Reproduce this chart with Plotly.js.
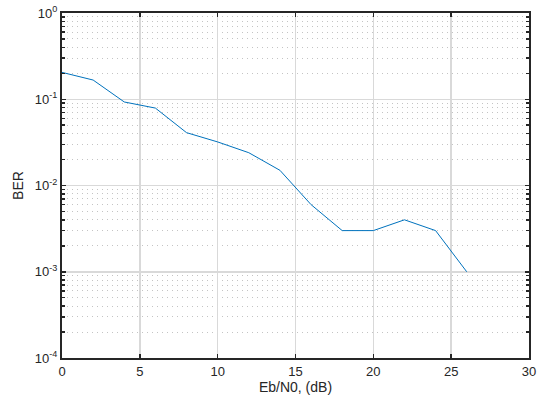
<!DOCTYPE html>
<html>
<head>
<meta charset="utf-8">
<script src="https://cdn.plot.ly/plotly-3.0.1.min.js"></script>
<style>html,body{margin:0;padding:0;background:#fff;}#chart{width:537px;height:403px;}</style>
</head>
<body>
<div id="chart"></div>
<script>
const ebn0 = [0, 2, 4, 6, 8, 10, 12, 14, 16, 18, 20, 22, 24, 26];
const ber = [0.205, 0.167, 0.093, 0.079, 0.041, 0.032, 0.024, 0.015, 0.006, 0.003, 0.003, 0.004, 0.003, 0.001];
const yTickVals = [1e-4, 1e-3, 1e-2, 1e-1, 1];
const yTickText = ['10<sup>-4</sup>', '10<sup>-3</sup>', '10<sup>-2</sup>', '10<sup>-1</sup>', '10<sup>0</sup>'];
const xTickVals = [0, 5, 10, 15, 20, 25, 30];

const axisColor = '#262626';
const trace = {
  x: ebn0, y: ber, type: 'scatter', mode: 'lines',
  line: {color: '#0072bd', width: 1}
};
const layout = {
  width: 537, height: 403,
  margin: {l: 62, r: 8, t: 13, b: 45},
  paper_bgcolor: '#ffffff', plot_bgcolor: '#ffffff',
  showlegend: false,
  font: {family: 'Liberation Sans, Arial, sans-serif', size: 13, color: axisColor},
  xaxis: {
    range: [0, 30], tickvals: xTickVals, ticktext: xTickVals.map(String),
    ticks: 'inside', ticklen: 4, tickcolor: axisColor, tickwidth: 1.5,
    showline: true, linecolor: axisColor, linewidth: 2, mirror: 'ticks',
    showgrid: true, gridcolor: '#d9d9d9', gridwidth: 1.5, zeroline: false,
    tickfont: {size: 13, color: axisColor},
    title: {text: 'Eb/N0, (dB)', font: {size: 14, color: axisColor}, standoff: 5}
  },
  yaxis: {
    type: 'log', range: [-4, 0], tickvals: yTickVals, ticktext: yTickText,
    ticks: 'inside', ticklen: 4, tickcolor: axisColor, tickwidth: 1.5,
    showline: true, linecolor: axisColor, linewidth: 2, mirror: 'ticks',
    showgrid: true, gridcolor: '#d9d9d9', gridwidth: 1.5, zeroline: false,
    tickfont: {size: 13, color: axisColor},
    minor: {
      tickvals: (function(){const v=[];for(let d=-4;d<0;d++){for(let k=2;k<=9;k++){v.push(k*Math.pow(10,d));}}return v;})(),
      ticks: 'inside', ticklen: 3, tickcolor: axisColor, tickwidth: 1.5,
      showgrid: true, gridcolor: '#c4c4c4', griddash: '1px,4px', gridwidth: 1
    },
    title: {text: 'BER', font: {size: 14, color: axisColor}, standoff: 8}
  }
};
Plotly.newPlot('chart', [trace], layout, {displayModeBar: false, staticPlot: true});
</script>
</body>
</html>
